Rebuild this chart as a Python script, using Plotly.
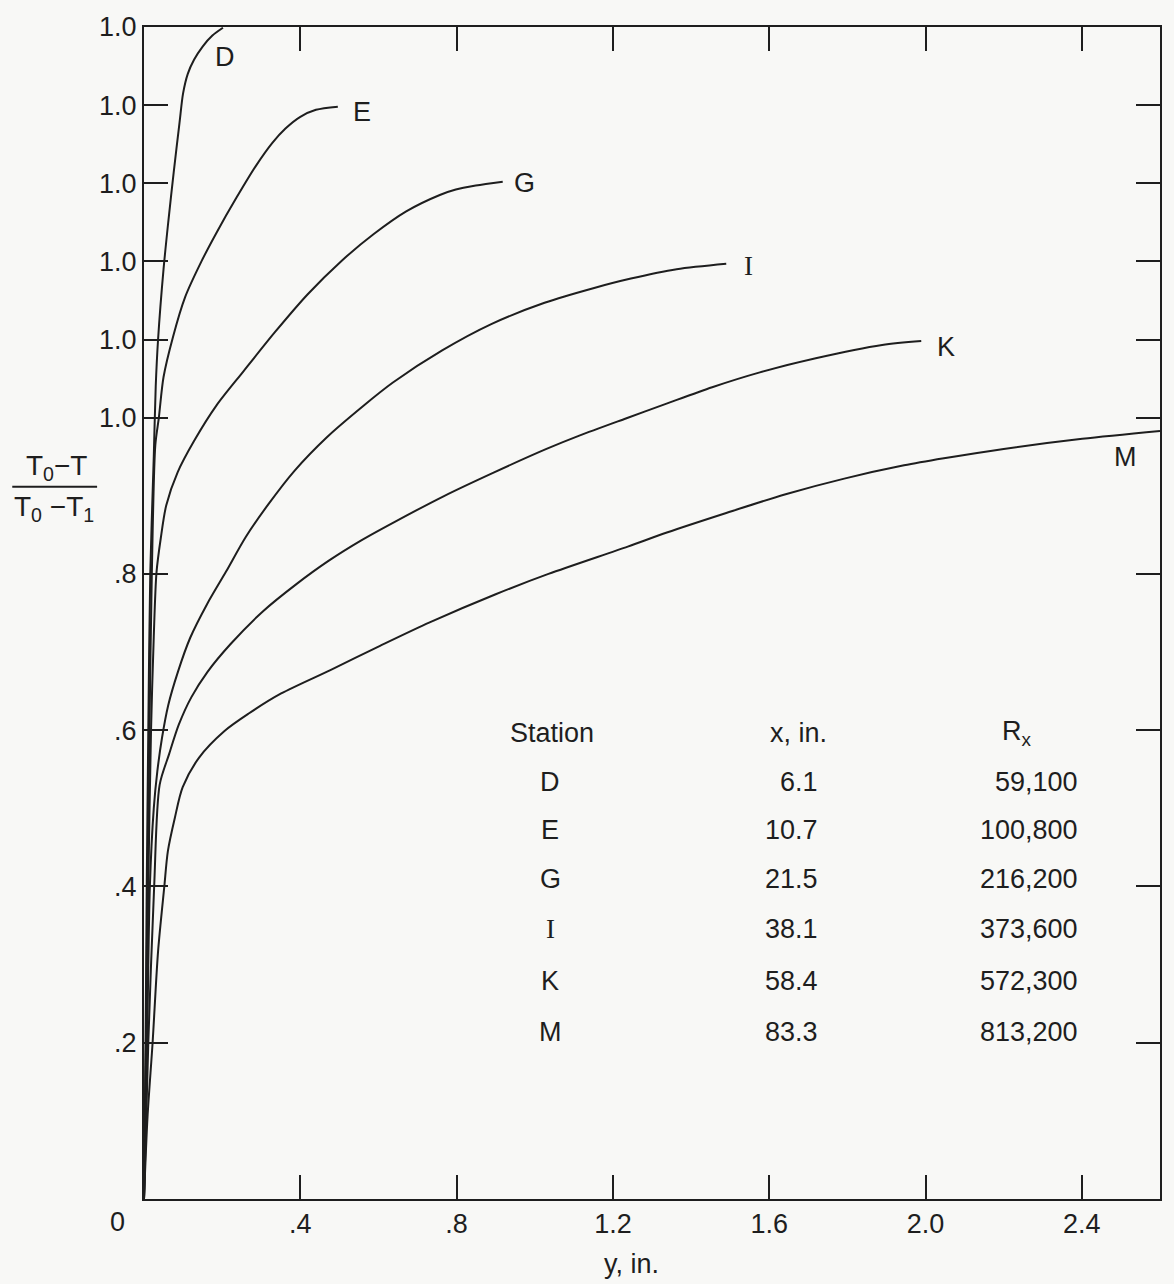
import plotly.graph_objects as go

# Temperature profiles across the boundary layer at six stations.
# Curves are staggered: each station's profile reaches 1.0 on its own
# shifted level (M at 1.0, K at 1.1, I at 1.2, G at 1.3, E at 1.4, D at 1.5).

# distance from wall, y (in.)  /  plotted temperature ratio
D_y = [0.0, 0.004, 0.007, 0.011, 0.016, 0.025, 0.030, 0.036, 0.050, 0.062, 0.076, 0.091, 0.100, 0.112, 0.128, 0.150, 0.175, 0.202]
D_t = [0.0, 0.20, 0.40, 0.60, 0.80, 0.95, 1.04, 1.10, 1.19, 1.25, 1.314, 1.378, 1.415, 1.440, 1.458, 1.475, 1.489, 1.499]

E_y = [0.0, 0.005, 0.009, 0.014, 0.020, 0.029, 0.038, 0.050, 0.074, 0.105, 0.147, 0.187, 0.236, 0.286, 0.329, 0.362, 0.400, 0.440, 0.496]
E_t = [0.0, 0.20, 0.40, 0.60, 0.80, 0.965, 1.000, 1.052, 1.103, 1.154, 1.200, 1.238, 1.281, 1.322, 1.352, 1.370, 1.385, 1.394, 1.398]

G_y = [0.0, 0.006, 0.011, 0.018, 0.025, 0.032, 0.043, 0.057, 0.086, 0.128, 0.186, 0.254, 0.336, 0.419, 0.504, 0.588, 0.671, 0.757, 0.798, 0.849, 0.918]
G_t = [0.0, 0.20, 0.40, 0.60, 0.72, 0.802, 0.846, 0.888, 0.930, 0.970, 1.016, 1.059, 1.110, 1.158, 1.200, 1.235, 1.264, 1.285, 1.292, 1.297, 1.302]

I_y = [0.0, 0.008, 0.015, 0.025, 0.034, 0.046, 0.062, 0.087, 0.118, 0.161, 0.210, 0.260, 0.318, 0.385, 0.468, 0.561, 0.637, 0.763, 0.890, 1.025, 1.152, 1.246, 1.363, 1.490]
I_t = [0.0, 0.20, 0.40, 0.50, 0.547, 0.590, 0.632, 0.675, 0.718, 0.761, 0.803, 0.847, 0.889, 0.932, 0.975, 1.015, 1.045, 1.086, 1.120, 1.147, 1.166, 1.178, 1.190, 1.197]

K_y = [0.0, 0.011, 0.026, 0.040, 0.064, 0.089, 0.121, 0.163, 0.221, 0.304, 0.390, 0.473, 0.556, 0.643, 0.769, 0.896, 1.030, 1.114, 1.233, 1.332, 1.454, 1.576, 1.719, 1.889, 1.989]
K_t = [0.0, 0.20, 0.40, 0.530, 0.569, 0.607, 0.642, 0.675, 0.710, 0.752, 0.787, 0.817, 0.843, 0.867, 0.900, 0.930, 0.960, 0.977, 0.999, 1.017, 1.039, 1.058, 1.076, 1.093, 1.098]

M_y = [0.0, 0.009, 0.022, 0.036, 0.052, 0.061, 0.079, 0.099, 0.141, 0.206, 0.267, 0.351, 0.477, 0.604, 0.731, 0.900, 1.035, 1.238, 1.338, 1.490, 1.642, 1.792, 1.945, 2.047, 2.200, 2.401, 2.600]
M_t = [0.0, 0.105, 0.200, 0.317, 0.400, 0.445, 0.488, 0.527, 0.565, 0.599, 0.621, 0.647, 0.677, 0.708, 0.738, 0.774, 0.800, 0.835, 0.853, 0.878, 0.902, 0.922, 0.939, 0.948, 0.960, 0.973, 0.983]

stations = ["D", "E", "G", "I", "K", "M"]
x_in = ["6.1", "10.7", "21.5", "38.1", "58.4", "83.3"]
R_x = ["59,100", "100,800", "216,200", "373,600", "572,300", "813,200"]

x_tickvals = [0.4, 0.8, 1.2, 1.6, 2.0, 2.4]
x_ticktext = [".4", ".8", "1.2", "1.6", "2.0", "2.4"]
y_tickvals = [0.2, 0.4, 0.6, 0.8, 1.0, 1.1, 1.2, 1.3, 1.4, 1.5]
y_ticktext = [".2", ".4", ".6", ".8", "1.0", "1.0", "1.0", "1.0", "1.0", "1.0"]

INK = "#1e1e1e"
BG = "#f8f8f6"
FONT = "Liberation Sans"
SERIF = "Liberation Serif"

profiles = {
    "D": (D_y, D_t),
    "E": (E_y, E_t),
    "G": (G_y, G_t),
    "I": (I_y, I_t),
    "K": (K_y, K_t),
    "M": (M_y, M_t),
}

# label anchor for each curve (data coordinates)
label_pos = {
    "D": (0.208, 1.461),
    "E": (0.557, 1.391),
    "G": (0.974, 1.300),
    "I": (1.547, 1.194),
    "K": (2.053, 1.090),
    "M": (2.511, 0.950),
}


def fam(letter):
    # the station letter I is lettered with serifs
    return SERIF if letter == "I" else FONT


fig = go.Figure()
for name, (yy, tt) in profiles.items():
    fig.add_trace(go.Scatter(
        x=yy, y=tt, mode="lines", name=name,
        line=dict(color=INK, width=2, shape="spline", smoothing=0.8),
        showlegend=False, hoverinfo="skip",
    ))

annotations = []
for name, (lx, ly) in label_pos.items():
    annotations.append(dict(x=lx, y=ly, xref="x", yref="y", text=name,
                            showarrow=False, xanchor="center", yanchor="middle",
                            font=dict(size=27, color=INK, family=fam(name))))

# station table
row_y = [0.534, 0.472, 0.409, 0.345, 0.279, 0.214]
head_y = 0.596
table = [
    dict(x=1.045, y=head_y, text="Station", xanchor="center", font=dict(family=FONT)),
    dict(x=1.675, y=head_y, text="x, in.", xanchor="center", font=dict(family=FONT)),
    dict(x=2.235, y=head_y, text="R<sub>x</sub>", xanchor="center", font=dict(family=FONT)),
]
for s, xv, rv, ry in zip(stations, x_in, R_x, row_y):
    table += [
        dict(x=1.040, y=ry, text=s, xanchor="center", font=dict(family=fam(s))),
        dict(x=1.731, y=ry, text=xv, xanchor="right", font=dict(family=FONT)),
        dict(x=2.395, y=ry, text=rv, xanchor="right", font=dict(family=FONT)),
    ]
for a in table:
    a.update(xref="x", yref="y", showarrow=False, yanchor="middle")
    a["font"].update(size=27, color=INK)
annotations += table

# shared origin label, axis title and ordinate fraction
L, T, PW, PH = 144, 24, 1018, 1175


def px(xp):
    return (xp - L) / PW


def py(yp):
    return (T + PH - yp) / PH


annotations += [
    dict(x=px(117), y=py(1222), xref="paper", yref="paper", text="0", showarrow=False,
         xanchor="center", yanchor="middle", font=dict(size=27, color=INK, family=FONT)),
    dict(x=px(632), y=py(1264), xref="paper", yref="paper", text="y, in.", showarrow=False,
         xanchor="center", yanchor="middle", font=dict(size=27, color=INK, family=FONT)),
    dict(x=px(56), y=py(466), xref="paper", yref="paper", text="T<sub>0</sub>\u2212T", showarrow=False,
         xanchor="center", yanchor="middle", font=dict(size=28, color=INK, family=FONT)),
    dict(x=px(54), y=py(507), xref="paper", yref="paper", text="T<sub>0</sub> \u2212T<sub>1</sub>", showarrow=False,
         xanchor="center", yanchor="middle", font=dict(size=28, color=INK, family=FONT)),
]

fig.add_shape(type="line", xref="paper", yref="paper",
              x0=px(12), x1=px(97), y0=py(485), y1=py(485),
              line=dict(color=INK, width=2))

axis_common = dict(
    showline=True, linecolor=INK, linewidth=2, mirror="ticks",
    ticks="inside", ticklen=24, tickwidth=2, tickcolor=INK,
    showgrid=False, zeroline=False,
    tickfont=dict(size=27, color=INK, family=FONT),
)

fig.update_xaxes(range=[0, 2.6], tickvals=x_tickvals, ticktext=x_ticktext,
                 ticklabelstandoff=0, **axis_common)
fig.update_yaxes(range=[0, 1.5], tickvals=y_tickvals, ticktext=y_ticktext,
                 ticklabelstandoff=0, **axis_common)

fig.update_layout(
    width=1174, height=1284,
    margin=dict(l=L, r=1174 - L - PW, t=T, b=1284 - T - PH),
    paper_bgcolor=BG, plot_bgcolor=BG,
    annotations=annotations,
    font=dict(family=FONT, color=INK),
)

fig.write_html("out.html")
